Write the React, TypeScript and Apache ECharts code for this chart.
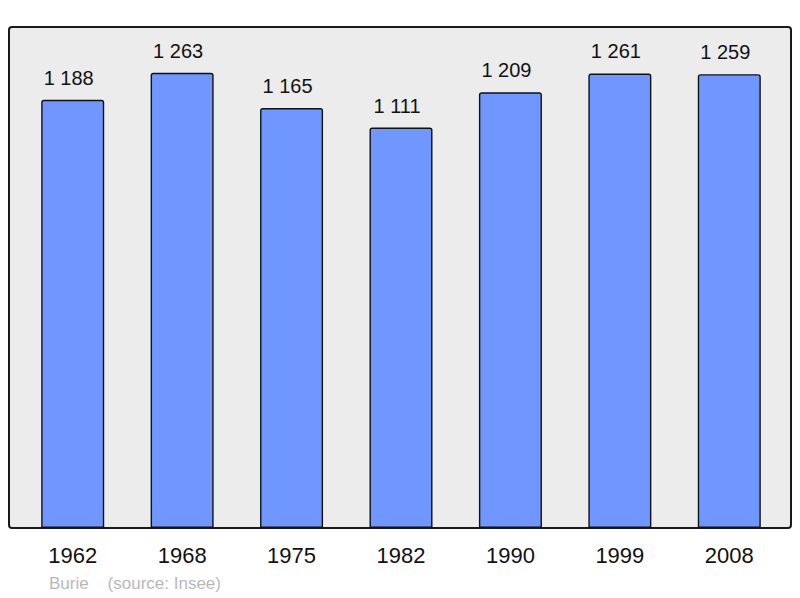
import React, { useEffect, useRef } from "react";
import * as echarts from "echarts";

const years = ["1962", "1968", "1975", "1982", "1990", "1999", "2008"];
const population = [1188, 1263, 1165, 1111, 1209, 1261, 1259];
const footer = "Burie    (source: Insee)";

const fmt = (v: number) => {
  const s = String(v);
  return s.replace(/\B(?=(\d{3})+(?!\d))/g, " ");
};

export default function App() {
  const ref = useRef<HTMLDivElement>(null);
  useEffect(() => {
    if (!ref.current) return;
    const chart = echarts.init(ref.current, undefined, { renderer: "svg" });
    chart.setOption({
      animation: false,
      backgroundColor: "#ffffff",
      textStyle: { fontFamily: "Liberation Sans, Arial, sans-serif" },
      graphic: [
        {
          type: "rect",
          z: -10,
          shape: { x: 9, y: 27, width: 782, height: 501, r: 3 },
          style: { fill: "#ececec", stroke: "#1a1a1a", lineWidth: 2 },
          silent: true,
        },
        {
          type: "text",
          left: 49,
          top: 575,
          style: {
            text: footer,
            fill: "#b8b8b8",
            font: "17px Liberation Sans, Arial, sans-serif",
          },
        },
      ],
      grid: { left: 18, right: 16, top: 27, bottom: 70, containLabel: false },
      xAxis: {
        type: "category",
        data: years,
        axisLine: { show: false },
        axisTick: { show: false },
        axisLabel: {
          color: "#111",
          fontSize: 22,
          margin: 16,
          fontFamily: "Liberation Sans, Arial, sans-serif",
        },
      },
      yAxis: {
        type: "value",
        min: 0,
        max: 1390,
        show: false,
        splitLine: { show: false },
      },
      series: [
        {
          type: "bar",
          data: population,
          barWidth: 63,
          itemStyle: {
            color: "#7097ff",
            borderColor: "#111",
            borderWidth: 1.4,
            borderRadius: [2, 2, 0, 0],
          },
          label: {
            show: true,
            position: "top",
            distance: 12,
            offset: [-4, 0],
            color: "#111",
            fontSize: 20,
            fontFamily: "Liberation Sans, Arial, sans-serif",
            formatter: (p: any) => fmt(p.value),
          },
        },
      ],
    });
    return () => chart.dispose();
  }, []);
  return <div ref={ref} style={{ width: 800, height: 598, position: "fixed", left: 0, top: 0 }} />;
}
